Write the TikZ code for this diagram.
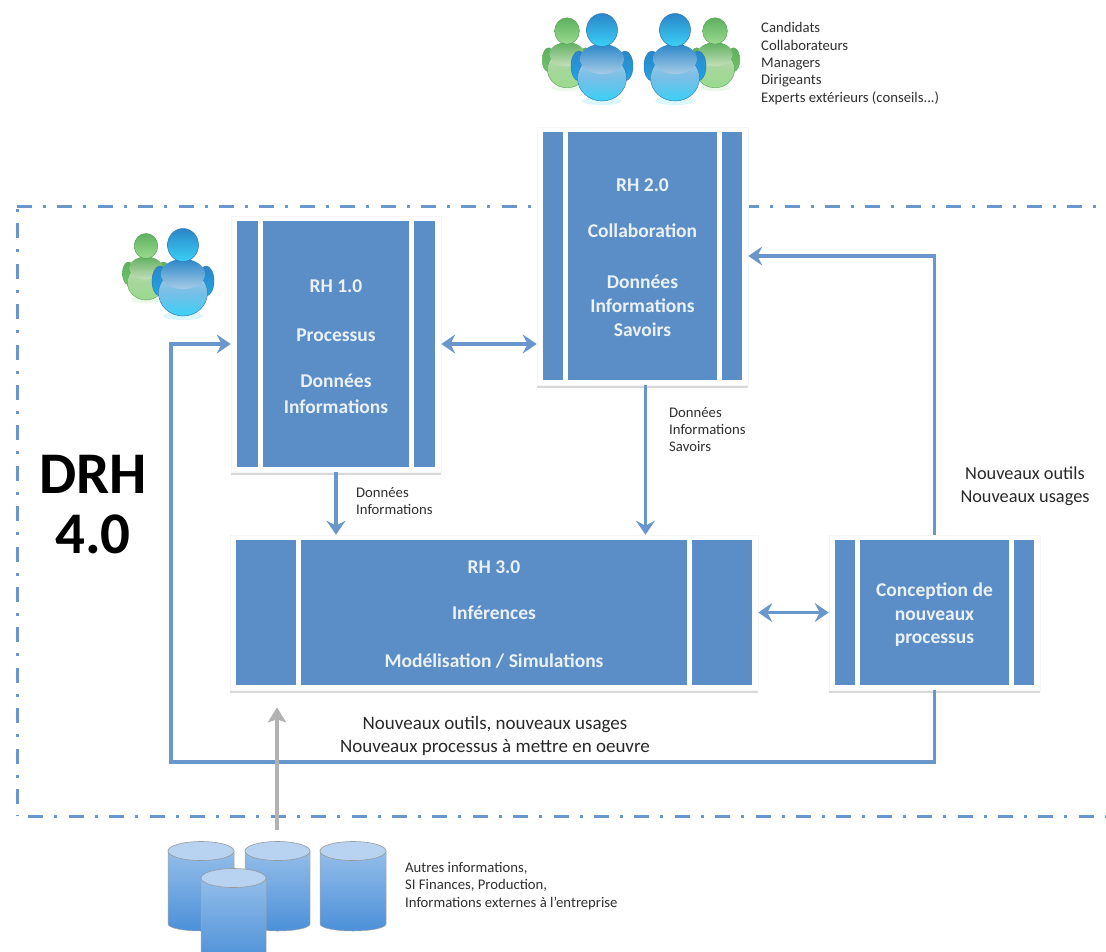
\documentclass[tikz,border=0pt]{standalone}
\usepackage{fontspec}
\setmainfont{Carlito}
\usetikzlibrary{arrows.meta,shadows,calc}
\definecolor{panelblue}{HTML}{5B8EC6}
\definecolor{linkblue}{HTML}{6A97CB}
\definecolor{inkgrey}{HTML}{303030}
\definecolor{blueA}{HTML}{2B86C8}\definecolor{blueB}{HTML}{3AD0F6}\definecolor{blueC}{HTML}{A6CBE6}\definecolor{blueD}{HTML}{1FA6E6}\definecolor{blueE}{HTML}{2C78B0}
\definecolor{greenA}{HTML}{5FB060}\definecolor{greenB}{HTML}{9ADB8E}\definecolor{greenC}{HTML}{C4DFB8}\definecolor{greenD}{HTML}{6CC566}\definecolor{greenE}{HTML}{58A35A}
\definecolor{drumtop}{HTML}{B7D3F1}\definecolor{drumhigh}{HTML}{93BDE9}\definecolor{drumlow}{HTML}{4C90D8}
\tikzset{
  backing/.style={fill=white,draw=black!4,line width=.6pt,inner sep=0pt,
    drop shadow={shadow xshift=0pt,shadow yshift=-2.5pt,fill=black!30,opacity=.5}},
  bar/.style={fill=panelblue,draw=none,inner sep=0pt,text=white!88!panelblue,align=center,
    font=\fontsize{19.5}{26}\selectfont\bfseries},
  link/.style={draw=linkblue,line width=3.4pt,-{Stealth[length=14pt,width=19pt,inset=5pt]}},
  twoway/.style={draw=linkblue,line width=3.4pt,{Stealth[length=14pt,width=19pt,inset=5pt]}-{Stealth[length=14pt,width=19pt,inset=5pt]}},
  feed/.style={draw=black!30,line width=4pt,-{Stealth[length=15pt,width=18pt,inset=3pt]}},
  frontier/.style={draw=linkblue,line width=3pt},
  note/.style={anchor=west,inner sep=0pt,align=left,text=inkgrey},
  midnote/.style={inner sep=0pt,align=center,text=inkgrey!85!black},
}
% name, x0, y0, x1, y1, side width, text
\newcommand\panel[7]{%
  \pgfmathsetmacro\pw{#4-#2}\pgfmathsetmacro\ph{#5-#3}%
  \pgfmathsetmacro\pcx{(#2+#4)/2}\pgfmathsetmacro\pcy{(#3+#5)/2}%
  \pgfmathsetmacro\bh{\ph-10}\pgfmathsetmacro\cw{\pw-12-10-2*#6}%
  \pgfmathsetmacro\off{\cw/2+5+#6/2}%
  \node[backing,minimum width=\pw pt,minimum height=\ph pt] (#1) at (\pcx,\pcy) {};
  \node[bar,minimum width=#6 pt,minimum height=\bh pt] (#1l) at (\pcx-\off,\pcy) {};
  \node[bar,minimum width=#6 pt,minimum height=\bh pt] (#1r) at (\pcx+\off,\pcy) {};
  \node[bar,minimum width=\cw pt,minimum height=\bh pt] (#1c) at (\pcx,\pcy) {#7};
}
% x, y of head centre, scale, colour prefix
\newcommand\person[4]{%
  \begin{scope}[shift={(#1,#2)}]
    \fill[#4B,opacity=.18] (0,71*#3) ellipse [x radius=20pt*#3,y radius=4pt*#3];
    \shade[top color=#4A,bottom color=#4D,draw=#4E,line width=.4pt] (-23*#3,36*#3) ellipse [x radius=8pt*#3,y radius=15pt*#3];
    \shade[top color=#4A,bottom color=#4D,draw=#4E,line width=.4pt] (23*#3,36*#3) ellipse [x radius=8pt*#3,y radius=15pt*#3];
    \shade[top color=#4C,bottom color=#4B,middle color=#4C!65!#4D,draw=#4E,line width=.4pt] (0,48*#3) ellipse [x radius=24.5pt*#3,y radius=23pt*#3];
    \shade[top color=#4A,bottom color=#4C,line width=.5pt] (0,29*#3) ellipse [x radius=22pt*#3,y radius=15pt*#3];
    \shade[top color=#4A,bottom color=#4B,draw=#4E,line width=.5pt] (0,0) ellipse [x radius=15.5pt*#3,y radius=16.5pt*#3];
  \end{scope}}
% x0, x1, top y, bottom y
\newcommand\database[4]{%
  \pgfmathsetmacro\rx{(#2-#1)/2}%
  \shade[top color=drumhigh,bottom color=drumlow,draw=black!35,line width=.5pt]
    (#1,#3+10) -- (#1,#4-7) arc [start angle=180,end angle=360,x radius=\rx pt,y radius=7pt] -- (#2,#3+10) -- cycle;
  \fill[drumtop,draw=black!40,line width=.6pt] ({(#1+#2)/2},#3+10) ellipse [x radius=\rx pt,y radius=9.5pt];
}
\begin{document}
\begin{tikzpicture}[x=1pt,y=-1pt]
\useasboundingbox[fill=white] (0,0) rectangle (1106,951);

% frontier
\coordinate (ftr) at (1106,206);
\coordinate (ftl) at (17,206);
\coordinate (fbl) at (17,816);
\coordinate (fbr) at (1106,816);
\draw[frontier,dash pattern=on 15pt off 11pt on 3pt off 11.4pt] (ftl) -- (ftr);
\draw[frontier,dash pattern=on 15pt off 11pt on 3pt off 11.4pt,dash phase=23pt] (ftl) -- (fbl);
\draw[frontier,dash pattern=on 15pt off 11pt on 3pt off 11.4pt,dash phase=29pt] (fbl) -- (fbr);

% panels
\panel{rh1}{231}{216}{441}{472}{21}{\rule{0pt}{18pt}RH 1.0\\[23pt]Processus\\[20pt]Données\\Informations}
\panel{rh2}{537}{127}{748}{385}{20}{\rule{0pt}{17pt}RH 2.0\\[20pt]Collaboration\\[25pt]Données\\[-2pt]Informations\\[-2pt]Savoirs}
\panel{rh3}{230}{535}{758}{690}{60}{\rule{0pt}{16pt}RH 3.0\\[20pt]Inférences\\[22pt]Modélisation / Simulations}
\panel{conc}{829}{535}{1040}{690}{20}{\rule{0pt}{19pt}Conception de\\[-2.5pt]nouveaux\\[-2.5pt]processus}

% people
\person{567}{31}{.8}{green}
\person{602}{30}{1}{blue}
\person{715}{31}{.8}{green}
\person{675}{30}{1}{blue}
\person{146}{246}{.76}{green}
\person{183}{245}{1}{blue}

% databases
\database{168}{234}{841}{931}
\database{245}{310}{841}{931}
\database{320}{386}{841}{931}
\database{201}{266}{868}{962}

% connectors
\coordinate (dbfoot) at (277,830);
\coordinate (loop) at (171,762);
\draw[twoway] (rh1.east) -- (rh1.east -| rh2.west);
\draw[link] (rh1.south) -- (rh1.south |- rh3.north);
\draw[link] ([xshift=3pt]rh2.south) -- ([xshift=3pt]rh2.south |- rh3.north);
\draw[twoway] (rh3.east) -- (conc.west);
\draw[link] (conc.north) |- (rh2.east);
\draw[link] (conc.south) |- (loop) |- (rh1.west);
\draw[feed,shorten >=17pt] (dbfoot) -- (dbfoot |- rh3.south);

% labels
\node[font=\fontsize{59}{60}\selectfont\bfseries,inner sep=0pt,align=center,text=black] (drh) at (93,505) {DRH\\4.0};
\node[note,font=\fontsize{14.7}{17.3}\selectfont] (actors) at (761,63.5) {Candidats\\Collaborateurs\\Managers\\Dirigeants\\Experts extérieurs (conseils...)};
\node[note,font=\fontsize{14.7}{17}\selectfont] (flow1) at (356,501) {Données\\Informations};
\node[note,font=\fontsize{14.7}{17}\selectfont] (flow2) at (669,430) {Données\\Informations\\Savoirs};
\node[midnote,font=\fontsize{18.3}{23}\selectfont] (newtools) at (1025,486.5) {Nouveaux outils\\Nouveaux usages};
\node[midnote,font=\fontsize{19}{23}\selectfont] (newproc) at (495,736) {Nouveaux outils, nouveaux usages\\Nouveaux processus à mettre en oeuvre};
\node[note,font=\fontsize{14.7}{17.5}\selectfont] (other) at (405,886) {Autres informations,\\SI Finances, Production,\\Informations externes à l'entreprise};
\end{tikzpicture}
\end{document}
